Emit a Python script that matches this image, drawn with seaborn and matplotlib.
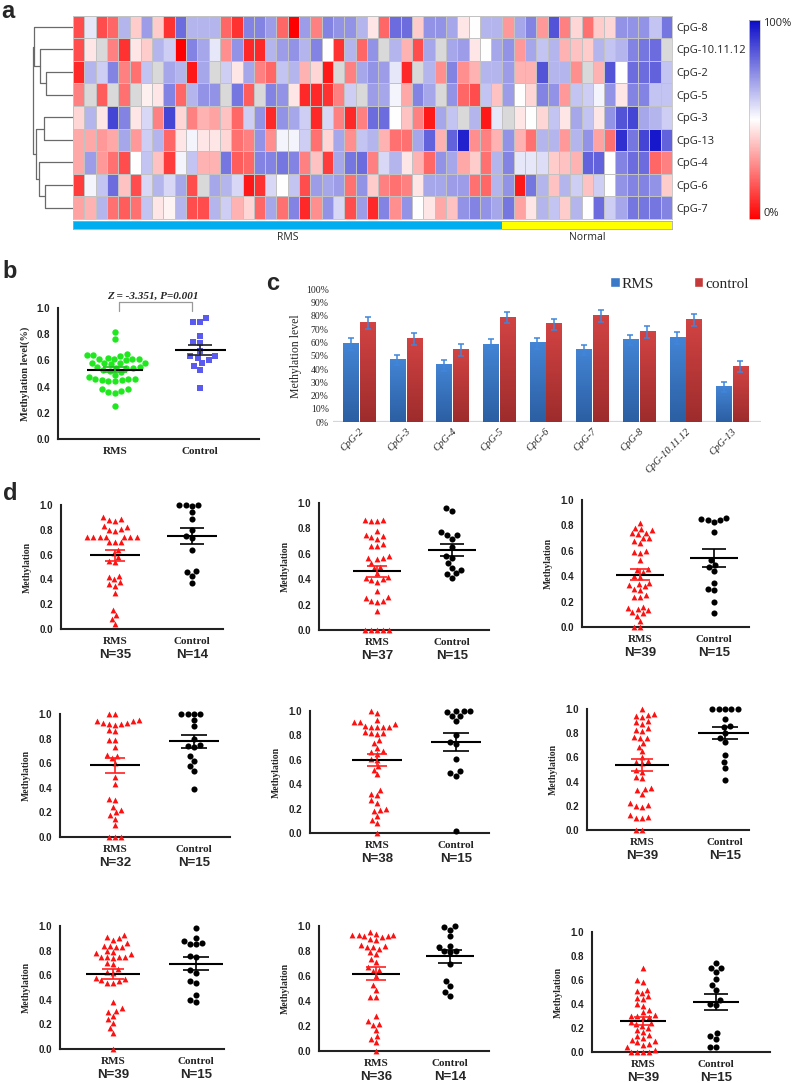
import numpy as np
import pandas as pd
import matplotlib
matplotlib.use('Agg')
import matplotlib.pyplot as plt
from matplotlib.colors import LinearSegmentedColormap, ListedColormap
from matplotlib.patches import Patch
import seaborn as sns

sns.set_style('white')
plt.rcParams['font.family'] = ['DejaVu Sans']

nan = np.nan

# ---------------- panel a: methylation heatmap (0 = 0%, 1 = 100%)
cpg_rows = ['CpG-8', 'CpG-10.11.12', 'CpG-2', 'CpG-5', 'CpG-3', 'CpG-13', 'CpG-4', 'CpG-6', 'CpG-7']

cpg8 = [0.15, 0.55, 0.15, 0.2, 0.65, 0.4, 0.7, 0.4, 0.1, 0.8, 0.65, 0.65, 0.65, 0.2, 0.1, 0.75, 0.75, 0.7,
        0.2, 0.0, 0.7, 0.25, 0.75, 0.72, 0.72, 0.65, 0.45, 0.2, 0.8, 0.8, 0.4, 0.72, 0.72, 0.68, 0.45, 0.5,
        0.65, 0.65, 0.3, 0.68, 0.75, 0.3, 0.85, 0.25, 0.42, 0.22, 0.4, 0.42, 0.72, 0.72, 0.72, 0.62, 0.78]
cpg10 = [0.15, 0.45, nan, 0.25, 0.1, 0.45, 0.4, 0.65, 0.6, 0.0, 0.75, 0.68, 0.55, 0.28, 0.72, 0.08, 0.08, 0.65,
         0.7, 0.72, 0.65, 0.75, 0.5, 0.1, 0.65, 0.2, 0.72, nan, 0.65, 0.35, 0.15, 0.68, nan, 0.68, 0.7, 0.45,
         0.5, 0.68, 0.72, 0.3, 0.68, 0.62, 0.65, 0.35, 0.38, 0.4, 0.65, 0.62, 0.65, 0.75, 0.78, 0.8, nan]
cpg2 = [0.08, 0.65, 0.6, 0.75, 0.25, 0.22, 0.62, nan, 0.68, 0.65, 0.05, 0.68, nan, 0.6, 0.45, 0.68, 0.25, 0.2,
        0.62, 0.65, 0.35, 0.42, 0.05, nan, 0.25, 0.68, 0.72, 0.7, 0.55, 0.08, nan, 0.65, 0.28, 0.75, 0.28, 0.35,
        0.65, 0.65, 0.7, 0.35, 0.35, 0.85, 0.65, 0.65, 0.28, nan, 0.35, 0.85, 0.5, 0.8, 0.8, 0.82, 0.62]
cpg5 = [0.25, nan, 0.18, nan, 0.22, nan, 0.47, 0.45, 0.75, 0.2, 0.65, 0.72, 0.72, nan, 0.78, 0.18, nan, 0.75,
        0.72, 0.45, 0.08, 0.08, 0.1, 0.25, 0.6, nan, 0.7, 0.68, 0.52, 0.33, 0.75, 0.68, nan, 0.72, 0.2, 0.15,
        0.62, 0.38, 0.7, 0.5, 0.42, 0.75, 0.72, 0.3, 0.62, 0.6, 0.52, 0.72, 0.45, 0.75, 0.75, 0.62, 0.62]
cpg3 = [0.42, 0.65, 0.45, 0.88, 0.75, 0.45, 0.58, 0.25, 0.88, 0.42, 0.25, 0.35, 0.32, 0.38, 0.2, 0.6, 0.72, 0.08,
        0.72, 0.68, 0.6, 0.08, 0.58, 0.25, 0.08, 0.25, 0.8, 0.8, 0.5, 0.38, 0.25, 0.05, 0.68, 0.62, nan, 0.65,
        0.05, 0.55, nan, 0.45, 0.5, 0.42, 0.62, 0.45, 0.68, 0.62, 0.45, 0.72, 0.85, 0.88, 0.68, 0.65, 0.6]
cpg13 = [0.33, 0.33, 0.3, 0.33, 0.68, 0.3, 0.6, 0.65, 0.2, 0.45, 0.52, 0.45, 0.45, 0.42, 0.22, 0.25, 0.72, 0.28,
         0.52, 0.52, 0.6, 0.22, 0.42, 0.68, 0.28, 0.62, 0.65, 0.35, 0.22, 0.22, 0.68, 0.82, 0.35, 0.82, 0.95, 0.28,
         0.25, 0.35, 0.72, 0.35, 0.22, 0.65, 0.65, 0.3, 0.65, 0.72, 0.32, 0.22, 0.92, 0.78, 0.88, 0.97, 0.82]
cpg4 = [0.33, 0.7, 0.3, 0.22, 0.15, 0.5, 0.62, 0.38, 0.12, 0.52, 0.62, 0.35, 0.35, 0.78, 0.18, 0.2, 0.75, 0.75,
        0.78, 0.75, 0.25, 0.38, 0.12, 0.68, 0.78, 0.8, 0.25, 0.58, 0.65, 0.45, 0.35, 0.2, 0.72, 0.68, 0.33, 0.4,
        0.22, 0.65, 0.75, 0.55, 0.55, 0.57, 0.4, 0.38, 0.35, 0.82, 0.82, 0.5, 0.75, 0.8, 0.8, 0.2, 0.25]
cpg6 = [0.12, 0.52, 0.62, 0.8, 0.38, 0.15, 0.58, 0.65, 0.58, 0.68, 0.15, nan, 0.68, 0.65, 0.58, 0.05, 0.1, 0.58,
        0.5, 0.62, 0.15, 0.7, 0.68, 0.7, 0.22, 0.72, 0.4, 0.25, 0.22, 0.25, 0.45, 0.68, 0.68, 0.7, 0.7, 0.22,
        0.2, 0.65, 0.72, 0.05, 0.78, 0.65, 0.38, 0.65, 0.6, 0.38, 0.6, 0.5, 0.72, 0.75, 0.75, 0.72, 0.4]
cpg7 = [0.32, 0.35, 0.65, 0.22, 0.18, 0.22, 0.62, 0.45, 0.48, 0.65, 0.15, 0.15, 0.65, 0.6, 0.35, 0.42, 0.2, 0.68,
        0.22, 0.75, 0.08, 0.28, 0.72, 0.58, 0.15, 0.7, 0.08, 0.75, 0.28, 0.72, 0.5, 0.45, 0.33, 0.38, 0.72, 0.75,
        0.72, 0.68, 0.78, 0.32, 0.45, 0.65, 0.62, 0.4, 0.65, 0.5, 0.8, 0.6, 0.68, 0.78, 0.78, 0.78, 0.75]

sample_groups = ['RMS'] * 38 + ['Normal'] * 15

# row dendrogram: (child, child, merge height); new nodes numbered from 9
row_merges = [(2, 3, 27), (1, 9, 33), (0, 10, 39.5), (4, 5, 29), (7, 8, 28),
              (6, 13, 34), (12, 14, 37), (11, 15, 40.5)]

# ---------------- panel b
b_rms = [0.82, 0.76, 0.65, 0.64, 0.64, 0.63, 0.62, 0.61, 0.61, 0.61, 0.61, 0.60, 0.58, 0.58,
         0.58, 0.58, 0.57, 0.55, 0.55, 0.54, 0.54, 0.54, 0.53, 0.52, 0.51, 0.49, 0.47, 0.46,
         0.46, 0.46, 0.45, 0.45, 0.44, 0.44, 0.38, 0.37, 0.36, 0.35, 0.38, 0.25]
b_control = [0.92, 0.89, 0.89, 0.79, 0.74, 0.73, 0.67, 0.63, 0.63, 0.62, 0.60, 0.58, 0.56, 0.53, 0.39]
b_stat = 'Z = -3.351, P=0.001'

# ---------------- panel c
c_sites = ['CpG-2', 'CpG-3', 'CpG-4', 'CpG-5', 'CpG-6', 'CpG-7', 'CpG-8', 'CpG-10.11.12', 'CpG-13']
c_rms = [0.589, 0.469, 0.429, 0.586, 0.594, 0.544, 0.619, 0.632, 0.266]
c_control = [0.749, 0.629, 0.544, 0.787, 0.737, 0.802, 0.679, 0.767, 0.419]
c_rms_err = [0.043, 0.040, 0.042, 0.038, 0.043, 0.040, 0.040, 0.045, 0.037]
c_control_err = [0.045, 0.045, 0.042, 0.043, 0.042, 0.045, 0.043, 0.045, 0.042]

# ---------------- panel d (one pair of groups per CpG site)
d1_rms = [0.89, 0.87, 0.88, 0.90, 0.81, 0.80, 0.79, 0.82, 0.83, 0.74, 0.74, 0.74, 0.74, 0.74, 0.74, 0.74,
          0.70, 0.70, 0.70, 0.64, 0.61, 0.58, 0.55, 0.54, 0.43, 0.42, 0.40, 0.38, 0.36, 0.35, 0.29,
          0.15, 0.11, 0.08, 0.04]
d1_ctrl = [1.0, 1.0, 1.0, 0.99, 0.94, 0.89, 0.80, 0.75, 0.73, 0.64, 0.47, 0.46, 0.43, 0.37]
d2_rms = [0.87, 0.86, 0.86, 0.87, 0.78, 0.75, 0.74, 0.73, 0.72, 0.68, 0.66, 0.66, 0.58, 0.57, 0.57, 0.56,
          0.53, 0.50, 0.49, 0.45, 0.42, 0.41, 0.40, 0.39, 0.38, 0.31, 0.26, 0.25, 0.23, 0.23, 0.22,
          0.15, 0.0, 0.0, 0.0, 0.0, 0.0]
d2_ctrl = [0.96, 0.94, 0.77, 0.75, 0.75, 0.72, 0.65, 0.58, 0.57, 0.53, 0.49, 0.47, 0.45, 0.44, 0.41]
d3_rms = [0.82, 0.78, 0.77, 0.76, 0.74, 0.74, 0.73, 0.70, 0.70, 0.68, 0.66, 0.60, 0.59, 0.58, 0.53,
          0.46, 0.45, 0.43, 0.40, 0.39, 0.35, 0.34, 0.33, 0.32, 0.30, 0.29, 0.25, 0.24, 0.24,
          0.16, 0.15, 0.14, 0.13, 0.12, 0.11, 0.09, 0.05, 0.0, 0.0]
d3_ctrl = [0.86, 0.85, 0.84, 0.84, 0.83, 0.75, 0.53, 0.49, 0.47, 0.44, 0.35, 0.30, 0.29, 0.20, 0.11]
d4_rms = [1.0, 1.0, 0.95, 0.94, 0.94, 0.93, 0.93, 0.92, 0.92, 0.91, 0.87, 0.86, 0.79, 0.79, 0.73,
          0.67, 0.66, 0.64, 0.60, 0.49, 0.43, 0.31, 0.30, 0.24, 0.22, 0.20, 0.18, 0.15, 0.10,
          0.0, 0.0, 0.0]
d4_ctrl = [1.0, 1.0, 1.0, 1.0, 0.95, 0.90, 0.80, 0.75, 0.74, 0.73, 0.66, 0.62, 0.58, 0.54, 0.39]
d5_rms = [1.0, 0.98, 0.93, 0.91, 0.91, 0.89, 0.87, 0.87, 0.87, 0.88, 0.87, 0.83, 0.82, 0.82, 0.81,
          0.76, 0.74, 0.70, 0.67, 0.66, 0.65, 0.61, 0.60, 0.55, 0.52, 0.48, 0.35, 0.32, 0.31,
          0.27, 0.25, 0.20, 0.19, 0.18, 0.14, 0.11, 0.08, 0.0]
d5_ctrl = [1.0, 1.0, 0.99, 1.0, 0.96, 0.96, 0.92, 0.80, 0.75, 0.73, 0.61, 0.51, 0.49, 0.47, 0.02]
d6_rms = [1.0, 0.96, 0.95, 0.94, 0.93, 0.90, 0.89, 0.88, 0.84, 0.83, 0.82, 0.77, 0.76, 0.76, 0.72,
          0.69, 0.65, 0.60, 0.57, 0.56, 0.55, 0.50, 0.48, 0.44, 0.43, 0.35, 0.34, 0.33, 0.30,
          0.22, 0.21, 0.20, 0.19, 0.12, 0.11, 0.10, 0.10, 0.0, 0.0]
d6_ctrl = [1.0, 1.0, 1.0, 1.0, 1.0, 0.92, 0.86, 0.85, 0.80, 0.76, 0.73, 0.62, 0.56, 0.51, 0.41]
d7_rms = [0.93, 0.91, 0.90, 0.89, 0.86, 0.84, 0.84, 0.83, 0.83, 0.80, 0.79, 0.78, 0.77, 0.75, 0.75,
          0.75, 0.75, 0.74, 0.70, 0.69, 0.65, 0.63, 0.62, 0.58, 0.57, 0.56, 0.55, 0.54, 0.54,
          0.38, 0.33, 0.31, 0.30, 0.27, 0.24, 0.21, 0.17, 0.13, 0.0]
d7_ctrl = [0.98, 0.90, 0.88, 0.86, 0.85, 0.85, 0.76, 0.75, 0.64, 0.62, 0.55, 0.54, 0.44, 0.40, 0.38]
d8_rms = [0.95, 0.94, 0.93, 0.93, 0.92, 0.92, 0.91, 0.93, 0.90, 0.89, 0.85, 0.84, 0.83, 0.83, 0.82,
          0.79, 0.78, 0.74, 0.71, 0.67, 0.65, 0.64, 0.60, 0.53, 0.49, 0.43, 0.43, 0.28, 0.24,
          0.22, 0.21, 0.17, 0.12, 0.10, 0.07, 0.0]
d8_ctrl = [1.0, 0.99, 0.97, 0.92, 0.84, 0.83, 0.80, 0.80, 0.79, 0.70, 0.56, 0.52, 0.47, 0.44]
d9_rms = [0.70, 0.60, 0.58, 0.52, 0.51, 0.49, 0.47, 0.45, 0.44, 0.40, 0.38, 0.35, 0.33, 0.31, 0.30,
          0.30, 0.29, 0.28, 0.25, 0.24, 0.23, 0.22, 0.20, 0.18, 0.17, 0.14, 0.13, 0.12, 0.10,
          0.09, 0.08, 0.07, 0.06, 0.04, 0.02, 0.0, 0.0, 0.0, 0.0]
d9_ctrl = [0.74, 0.70, 0.70, 0.67, 0.61, 0.56, 0.52, 0.43, 0.40, 0.39, 0.16, 0.13, 0.11, 0.04, 0.04]

d_panels = [(d1_rms, d1_ctrl), (d2_rms, d2_ctrl), (d3_rms, d3_ctrl),
            (d4_rms, d4_ctrl), (d5_rms, d5_ctrl), (d6_rms, d6_ctrl),
            (d7_rms, d7_ctrl), (d8_rms, d8_ctrl), (d9_rms, d9_ctrl)]

W, H = 792, 1083
fig = plt.figure(figsize=(W / 100, H / 100), dpi=100)

SERIF = 'Liberation Serif'
SANS = 'Liberation Sans'


def px_axes(x0, y0, x1, y1):
    return fig.add_axes([x0 / W, 1 - y1 / H, (x1 - x0) / W, (y1 - y0) / H])


def panel_letter(x, y, s):
    fig.text(x / W, 1 - y / H, s, fontsize=17, fontweight='bold', family=SANS, va='center', ha='left')


# ================= panel a
heat = pd.DataFrame([cpg8, cpg10, cpg2, cpg5, cpg3, cpg13, cpg4, cpg6, cpg7], index=cpg_rows)
heat_cmap = LinearSegmentedColormap.from_list('meth', ['#ff0000', '#ffffff', '#0a0ac8'])

ax_h = px_axes(73, 15.5, 672, 219)
ax_cb = px_axes(749, 20, 760, 219)
ax_h.set_facecolor('#d9d9d9')
sns.heatmap(heat, ax=ax_h, cmap=heat_cmap, vmin=0, vmax=1, linewidths=0.6, linecolor='#c2c2c2',
            cbar_ax=ax_cb, xticklabels=False, yticklabels=True)
ax_h.yaxis.tick_right()
ax_h.tick_params(axis='y', length=0, pad=3, labelsize=8, rotation=0)
for lab in ax_h.get_yticklabels():
    lab.set_family('Open Sans')
ax_h.set_xlabel('')
ax_h.set_ylabel('')
for sp in ax_h.spines.values():
    sp.set_visible(True)
    sp.set_color('#c2c2c2')
    sp.set_linewidth(0.6)

cbar = ax_h.collections[0].colorbar
cbar.set_ticks([])
cbar.outline.set_edgecolor('#c8c8c8')
cbar.outline.set_linewidth(0.6)
fig.text(763 / W, 1 - 23 / H, '100%', fontsize=8, family='Open Sans', va='center')
fig.text(763 / W, 1 - 214 / H, '0%', fontsize=8, family='Open Sans', va='center')

# sample group bar
ax_g = px_axes(73, 221, 672, 228.5)
group_codes = pd.DataFrame([[0 if g == 'RMS' else 1 for g in sample_groups]])
sns.heatmap(group_codes, ax=ax_g, cmap=ListedColormap(['#00adef', '#ffff00']), vmin=0, vmax=1,
            cbar=False, xticklabels=False, yticklabels=False)
for sp in ax_g.spines.values():
    sp.set_visible(True)
    sp.set_color('#aaaaaa')
    sp.set_linewidth(0.6)
for name in ['RMS', 'Normal']:
    idx = [i for i, g in enumerate(sample_groups) if g == name]
    cx = (idx[0] + idx[-1] + 1) / 2
    ax_g.annotate(name, xy=(cx, 1), xycoords='data', xytext=(0, -6.3), textcoords='offset points',
                  ha='center', va='center', fontsize=7.5, family='Open Sans')

# row dendrogram
ax_d = px_axes(28, 15.5, 73, 219)
pos = {i: i + 0.5 for i in range(len(cpg_rows))}
hgt = {i: 0.0 for i in range(len(cpg_rows))}
for k, (a, b, h) in enumerate(row_merges):
    node = len(cpg_rows) + k
    ax_d.plot([hgt[a], h, h, hgt[b]], [pos[a], pos[a], pos[b], pos[b]], color='#6a6a6a', lw=0.9)
    pos[node] = (pos[a] + pos[b]) / 2
    hgt[node] = h
ax_d.set_xlim(45, 0)
ax_d.set_ylim(len(cpg_rows), 0)
ax_d.axis('off')
panel_letter(1, 12, 'a')


# ================= dot plots (b and d)
def dot_group(ax, vals, cat, order, marker, color, size):
    df = pd.DataFrame({'group': [cat] * len(vals), 'value': vals})
    sns.swarmplot(data=df, x='group', y='value', order=order, marker=marker, color=color,
                  size=size, linewidth=0, ax=ax, clip_on=False, zorder=3)


def mean_sem(ax, vals, x, color, half=0.3, cap=0.14):
    v = np.asarray(vals)
    m = v.mean()
    s = v.std(ddof=1) / np.sqrt(len(v))
    ax.hlines(m, x - half, x + half, color='black', lw=1.5, zorder=5)
    ax.hlines([m - s, m + s], x - cap, x + cap, color=color, lw=1.2, zorder=5)
    ax.vlines(x, m - s, m + s, color=color, lw=1.2, zorder=5)


def style_dot_axes(ax, xlim, xfs=8):
    ax.set_xlim(xlim)
    ax.set_ylim(0, 1.0)
    ticks = np.round(np.arange(0, 1.01, 0.2), 1)
    ax.set_yticks(ticks)
    ax.set_yticklabels([f'{t:.1f}' for t in ticks], family=SANS, fontweight='bold', fontsize=7)
    ax.set_xticks([0, 1])
    ax.set_xticklabels(['RMS', 'Control'], family=SERIF, fontsize=xfs, fontweight='bold')
    ax.set_xlabel('')
    for side in ['top', 'right']:
        ax.spines[side].set_visible(False)
    for side in ['left', 'bottom']:
        ax.spines[side].set_linewidth(1.5)
        ax.spines[side].set_color('#222222')
    ax.tick_params(axis='both', direction='out', length=3.5, width=1.2, colors='#222222', pad=2)
    ax.set_facecolor('none')


def xlim_from(x0, x1, rms_x, ctrl_x):
    unit = ctrl_x - rms_x
    return (-(rms_x - x0) / unit, (x1 - rms_x) / unit)


# ---- panel b
ax_b = px_axes(58, 308, 259, 439)
order = ['RMS', 'Control']
dot_group(ax_b, b_rms, 'RMS', order, 'o', '#1fe81f', 4.6)
dot_group(ax_b, b_control, 'Control', order, 's', '#5a5aee', 5.0)
mean_sem(ax_b, b_rms, 0, '#1fbf1f', half=0.33)
mean_sem(ax_b, b_control, 1, '#222222', half=0.3)
style_dot_axes(ax_b, xlim_from(58, 259, 115, 200), xfs=8)
ax_b.set_ylabel('Methylation level(%)', family=SERIF, fontweight='bold', fontsize=7.5, labelpad=5)
ax_b.plot([0.05, 0.05, 0.9, 0.9], [0.977, 1.046, 1.046, 0.977], color='#999999', lw=0.9,
          clip_on=False)
ax_b.text(0.45, 1.088, b_stat, ha='center', va='center', fontsize=8, family=SERIF,
          fontweight='bold', style='italic')
panel_letter(2, 271, 'b')

# ---- panel c
ax_c = px_axes(333, 289.3, 761, 422.3)
c_df = pd.DataFrame({'site': c_sites * 2,
                     'group': ['RMS'] * len(c_sites) + ['control'] * len(c_sites),
                     'level': c_rms + c_control})
rms_col, ctl_col = '#3a78c8', '#c43a3a'
sns.barplot(data=c_df, x='site', y='level', hue='group', palette=[rms_col, ctl_col], width=0.72,
            gap=0.1, errorbar=None, legend=False, ax=ax_c, saturation=1)
grad_maps = [LinearSegmentedColormap.from_list('r', ['#2c5fa3', '#4384d4']),
             LinearSegmentedColormap.from_list('c', ['#9e2c2c', '#d24343'])]
errs = c_rms_err + c_control_err
bars = list(ax_c.patches)[:2 * len(c_sites)]
for i, p in enumerate(bars):
    x0, w, h = p.get_x(), p.get_width(), p.get_height()
    ax_c.imshow(np.linspace(0, 1, 64).reshape(-1, 1), extent=[x0, x0 + w, 0, h], origin='lower',
                cmap=grad_maps[i // len(c_sites)], aspect='auto', zorder=2)
    ax_c.errorbar(x0 + w / 2, h, yerr=errs[i], color='#3f86dc', capsize=2.3, lw=1.1,
                  capthick=1.1, zorder=4)
ax_c.set_xlim(-0.56, len(c_sites) - 1 + 0.62)
ax_c.set_ylim(0, 1.0)
yt = np.round(np.arange(0, 1.01, 0.1), 1)
ax_c.set_yticks(yt)
ax_c.set_yticklabels([f'{int(round(t * 100))}%' for t in yt], family=SERIF, fontsize=7)
ax_c.set_xticks(range(len(c_sites)))
ax_c.set_xticklabels(c_sites, rotation=45, ha='right', rotation_mode='anchor', family=SERIF,
                     fontsize=7.5, style='italic')
ax_c.tick_params(axis='both', length=0, pad=3)
ax_c.set_xlabel('')
ax_c.set_ylabel('Methylation level', family=SERIF, fontsize=8.5, labelpad=3)
for sp in ax_c.spines.values():
    sp.set_visible(False)
ax_c.axhline(0, color='#cbd8ec', lw=1.6, zorder=1)
handles = [Patch(facecolor=rms_col, label='RMS'), Patch(facecolor=ctl_col, label='control')]
ax_c.legend(handles=handles, ncol=2, loc='center', bbox_to_anchor=(0.81, 1.04), frameon=False,
            prop={'family': SERIF, 'size': 11}, handlelength=0.6, handleheight=0.6,
            handletextpad=0.15, columnspacing=2.6)
panel_letter(266, 283, 'c')

# ---- panel d
d_layout = [(61, 223, 505, 629, 115, 192), (319, 489, 503, 630, 377, 452), (582, 749, 500, 627, 640, 714),
            (60, 230, 714, 837, 115, 194), (310, 489, 711, 833, 377, 456), (587, 749, 709, 830, 642, 725),
            (60, 224, 926, 1049, 113, 196), (319, 489, 926, 1051, 376, 450), (592, 770, 932, 1052, 643, 716)]

for (rms_vals, ctrl_vals), (x0, x1, yt0, yb0, rx, cx) in zip(d_panels, d_layout):
    ax = px_axes(x0, yt0, x1, yb0)
    dot_group(ax, rms_vals, 'RMS', order, '^', '#ff1010', 4.2)
    dot_group(ax, ctrl_vals, 'Control', order, 'o', '#000000', 4.4)
    mean_sem(ax, rms_vals, 0, '#ff2020', half=0.32, cap=0.13)
    mean_sem(ax, ctrl_vals, 1, '#000000', half=0.32, cap=0.16)
    style_dot_axes(ax, xlim_from(x0, x1, rx, cx), xfs=8)
    ax.set_ylabel('Methylation', family=SERIF, fontweight='bold', fontsize=7, labelpad=6)
    for xpos, vals in [(0, rms_vals), (1, ctrl_vals)]:
        ax.annotate(f'N={len(vals)}', xy=(xpos, 0), xycoords=('data', 'axes fraction'),
                    xytext=(0, -18.5), textcoords='offset points', ha='center', va='center',
                    fontsize=9.5, fontweight='bold', family=SANS)
panel_letter(3, 493, 'd')

fig.savefig('out.png', dpi=100)
